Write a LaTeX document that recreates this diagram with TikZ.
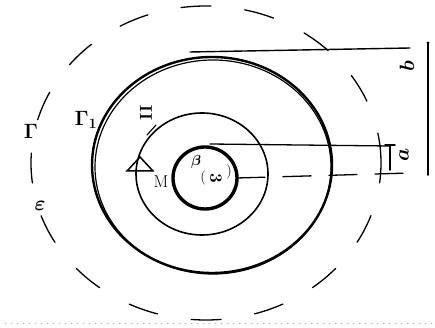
\documentclass[tikz,border=0pt]{standalone}
\usepackage{amsfonts,amsmath,amssymb}
\usepackage{xcolor}
\usepackage{tikz}
\usetikzlibrary{arrows.meta,positioning}

\begin{document}
\begin{tikzpicture}[x=1pt,y=1pt,line cap=round,
thickring/.style={line width=2.4pt},
dashring/.style={line width=1.3pt,dash pattern=on 30pt off 34pt},
lbl/.style={inner sep=0pt,font=\huge\boldmath}]
\useasboundingbox(0,0)rectangle(435,328);
% centres
\coordinate(o)at(206,165);
\coordinate(big)at(212,163);
\coordinate(mid)at(202,154);
\coordinate(core)at(205,150);
% rings
\draw[dashring](o)ellipse[x radius=175,y radius=157];
\draw[thickring](big)ellipse[x radius=120,y radius=108];
\draw[line width=1.2pt](213,161)ellipse[x radius=118,y radius=107];
\draw[line width=1.6pt](mid)ellipse[x radius=66,y radius=61];
\draw[line width=3.4pt](core)ellipse[x radius=32,y radius=31];
% radii
\coordinate(ctop)at(210,184);
\coordinate(aend)at(390,182);
\coordinate(cright)at(237,150);
\coordinate(rend)at(410,155);
\coordinate(btop)at(410,280);
\draw[line width=1.4pt](190,276)--(btop);
\draw[line width=1.3pt](ctop)--(aend);
\draw[line width=1.6pt](aend)--++(0,-24)(385,183)--(395,183);
\draw[line width=1.3pt,dash pattern=on 28pt off 18pt](cright)--(rend);
\draw[line width=1pt](380,159)--(380,149);
\draw[line width=1.8pt](428,285)--(428,153);
\fill(428,285)circle(1.6pt);
% marks on the middle ring
\coordinate(arr)at(140,164);
\draw[line width=1.5pt](127,157)--(140,171)--(153,157)--cycle;
\draw[line width=1.1pt](147,193)--(156,203);
% labels
\node(b)[lbl,rotate=90]at(407,262){$b$};
\node(a)[lbl,rotate=90]at(404,173){$a$};
\node(g)[lbl]at(31,197){$\Gamma$};
\node(eps)[lbl]at(40,122){$\varepsilon$};
\node(g1)[lbl]at(86,208){$\Gamma_1$};
\node(two)[inner sep=0pt,font=\LARGE\bfseries,rotate=90]at(146,215){II};
\node(m)[font=\LARGE,inner sep=0pt]at(161,146){M};
\node(beta)[font=\Large\boldmath,inner sep=0pt]at(196,166){$\beta$};
\node(lp)[font=\Large,inner sep=0pt]at(203,150){(};
\node(three)[font=\LARGE\bfseries,inner sep=0pt,rotate=-90]at(216,150){3};
\node(rp)[font=\Large,inner sep=0pt]at(229,156){)};
% scan edge
\draw[gray!60,line width=0.5pt,dash pattern=on 1pt off 5pt](5,5)--(432,5);
\end{tikzpicture}
\end{document}
